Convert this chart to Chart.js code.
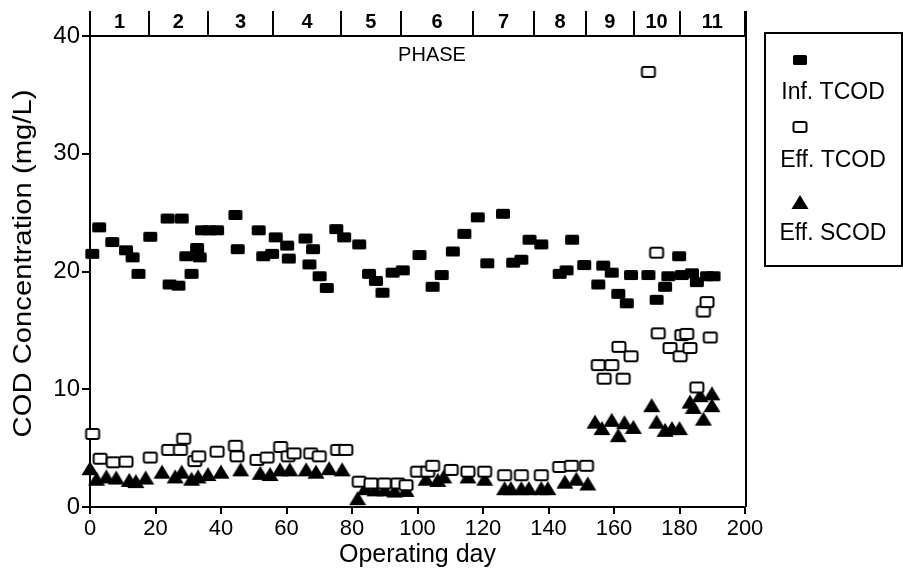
<!DOCTYPE html>
<html>
<head>
<meta charset="utf-8">
<script src="https://cdn.jsdelivr.net/npm/chart.js@4/dist/chart.umd.min.js"></script>
<style>
  html, body { margin: 0; padding: 0; background: #fff; }
  #wrap { width: 903px; height: 576px; }
</style>
</head>
<body>
<div id="wrap"><canvas id="chart" width="903" height="576"></canvas></div>
<script>
// Inf. TCOD (filled squares)
var infDay = [0.7, 2.8, 6.8, 11, 13, 14.8, 18.4, 23.7, 28, 24.3, 27, 31, 29.4, 32.7, 33.5, 34.2, 36.5, 38.8, 44.4, 45.1,
  51.5, 52.9, 56.7, 55.6, 60.2, 60.7, 65.8, 68.1, 67, 70.1, 72.3, 75.2, 77.6, 82.2, 85.2, 87.3, 89.3, 92.4, 95.5, 100.6,
  104.6, 107.4, 110.8, 114.3, 118.4, 121.3, 126.1, 129.2, 131.7, 134.2, 137.8, 143.4, 145.5, 147.2, 150.9, 155.2, 156.7,
  159.3, 161.3, 163.9, 165.2, 170.5, 173, 175.6, 176.6, 179.9, 180.7, 183.8, 185.3, 188.4, 190.4];
var infTcod = [21.5, 23.75, 22.5, 21.8, 21.2, 19.8, 22.95, 24.5, 24.5, 18.9, 18.8, 19.8, 21.3, 22.0, 21.2, 23.5, 23.5, 23.5, 24.8, 21.9,
  23.5, 21.3, 22.9, 21.5, 22.2, 21.1, 22.8, 21.9, 20.6, 19.6, 18.6, 23.6, 22.9, 22.3, 19.8, 19.2, 18.2, 19.9, 20.1, 21.4,
  18.7, 19.7, 21.7, 23.2, 24.6, 20.7, 24.9, 20.75, 21.0, 22.7, 22.3, 19.8, 20.1, 22.7, 20.55, 18.9, 20.5,
  19.9, 18.1, 17.3, 19.7, 19.7, 17.6, 18.7, 19.6, 21.3, 19.7, 19.85, 19.1, 19.6, 19.6];

// Eff. TCOD (open squares)
var effDay = [0.8, 3.1, 7.1, 11, 18.4, 24, 27.6, 28.6, 32, 33.2, 38.8, 44.4, 44.9, 51, 54.1, 58.2, 60.5, 62.3, 67.4, 70,
  75.6, 78.1, 82.2, 85.8, 89.9, 94, 96.5, 100, 103.1, 104.6, 110.3, 115.4, 120.5, 126.6, 131.7, 137.8, 143.4, 147, 151.6,
  155.2, 157, 159.3, 161.5, 162.8, 165.2, 170.5, 173, 173.5, 177.1, 180.2, 180.7, 182.2, 183.2, 185.3, 187.3, 188.4, 189.4];
var effTcod = [6.2, 4.1, 3.8, 3.85, 4.2, 4.85, 4.85, 5.8, 3.9, 4.3, 4.7, 5.2, 4.3, 4.0, 4.2, 5.1, 4.3, 4.55, 4.55, 4.3,
  4.85, 4.85, 2.15, 2.0, 2.0, 2.0, 1.85, 3.0, 3.0, 3.5, 3.15, 3.0, 3.0, 2.7, 2.7, 2.7, 3.4, 3.5, 3.5,
  12.05, 10.9, 12.05, 13.6, 10.9, 12.8, 36.95, 21.6, 14.75, 13.5, 12.8, 14.6, 14.7, 13.5, 10.15, 16.6, 17.4, 14.4];

// Eff. SCOD (filled triangles)
var scodDay = [0, 2, 5, 8, 12, 14, 17, 22, 26, 28, 31, 33, 36, 40, 46, 52, 55, 58, 61, 66, 69, 73, 77,
  81.7, 84, 87, 90, 93, 96.5, 102.6, 106.2, 108, 115.4, 120.5, 126.6, 128.5, 131.7, 134, 137.8, 139.8, 145, 148.5, 152,
  154.2, 156.3, 159.3, 161.3, 163.2, 165.9, 171.5, 173, 175.6, 177.7, 180, 183.2, 184.2, 186.3, 187.3, 189.9, 189.9];
var effScod = [3.3, 2.4, 2.6, 2.5, 2.3, 2.2, 2.5, 3.0, 2.6, 3.0, 2.4, 2.6, 2.8, 3.0, 3.2, 2.9, 2.8, 3.2, 3.2, 3.2, 3.0, 3.3, 3.2,
  0.75, 1.6, 1.5, 1.5, 1.4, 1.45, 2.4, 2.3, 2.6, 2.6, 2.4, 1.6, 1.6, 1.6, 1.6, 1.6, 1.6, 2.15, 2.4, 2.0,
  7.25, 6.7, 7.4, 6.1, 7.2, 6.8, 8.65, 7.25, 6.55, 6.7, 6.7, 8.95, 8.5, 9.5, 7.5, 9.65, 8.65];

// Phase strip along the top
var phaseEdges = [0, 18, 36, 56, 76.5, 95, 117, 135.5, 151.5, 166, 180, 200];
var phaseLabels = ['1', '2', '3', '4', '5', '6', '7', '8', '9', '10', '11'];

var xTicks = [0, 20, 40, 60, 80, 100, 120, 140, 160, 180, 200];
var yTicks = [0, 10, 20, 30, 40];

var FONT = "'Liberation Sans', Arial, Helvetica, sans-serif";

function pairs(xs, ys) {
  return xs.map(function (x, i) { return { x: x, y: ys[i] }; });
}

// Marker images
function makeMarker(kind) {
  var c = document.createElement('canvas');
  c.width = 18; c.height = 16;
  var g = c.getContext('2d');
  g.fillStyle = '#000';
  g.strokeStyle = '#000';
  if (kind === 'filled') {
    g.beginPath();
    g.roundRect(2, 3, 14, 10, 1.5);
    g.fill();
  } else if (kind === 'open') {
    g.fillStyle = '#fff';
    g.lineWidth = 2;
    g.beginPath();
    g.roundRect(2.5, 3, 13, 10, 2);
    g.fill();
    g.stroke();
  } else {
    g.beginPath();
    g.moveTo(9, 1);
    g.lineTo(17.5, 15);
    g.lineTo(0.5, 15);
    g.closePath();
    g.fill();
  }
  return c;
}

var markFilled = makeMarker('filled');
var markOpen = makeMarker('open');
var markTri = makeMarker('tri');

var framePlugin = {
  id: 'frame',
  afterDraw: function (chart) {
    var ctx = chart.ctx;
    var xs = chart.scales.x;
    var area = chart.chartArea;
    var stripTop = 11;
    ctx.save();
    ctx.strokeStyle = '#000';
    ctx.fillStyle = '#000';

    // top and right border
    ctx.lineWidth = 2;
    ctx.beginPath();
    ctx.moveTo(area.left, area.top);
    ctx.lineTo(area.right + 1, area.top);
    ctx.moveTo(area.right + 1, stripTop);
    ctx.lineTo(area.right + 1, area.bottom);
    ctx.stroke();

    // phase dividers and labels
    phaseEdges.forEach(function (d) {
      var px = Math.round(xs.getPixelForValue(d));
      ctx.beginPath();
      ctx.moveTo(px, stripTop);
      ctx.lineTo(px, area.top);
      ctx.stroke();
    });
    ctx.font = 'bold 20px ' + FONT;
    ctx.textAlign = 'center';
    ctx.textBaseline = 'middle';
    phaseLabels.forEach(function (lab, i) {
      var mid = (xs.getPixelForValue(phaseEdges[i]) + xs.getPixelForValue(phaseEdges[i + 1])) / 2;
      ctx.fillText(lab, mid, 22);
    });
    ctx.font = '20px ' + FONT;
    ctx.fillText('PHASE', 432, 55);

    // y axis title, stretched like the scan
    ctx.save();
    ctx.translate(24, (area.top + area.bottom) / 2 - 8);
    ctx.rotate(-Math.PI / 2);
    ctx.scale(1.17, 1);
    ctx.font = '25px ' + FONT;
    ctx.fillText('COD Concentration (mg/L)', 0, 0);
    ctx.restore();

    // legend
    ctx.lineWidth = 2;
    ctx.strokeRect(765, 33, 137, 233);
    var items = [
      { img: markFilled, y: 60, label: chart.data.datasets[0].label, ty: 93 },
      { img: markOpen, y: 127, label: chart.data.datasets[1].label, ty: 161 },
      { img: markTri, y: 202, label: chart.data.datasets[2].label, ty: 234 }
    ];
    ctx.font = '23px ' + FONT;
    items.forEach(function (it) {
      ctx.drawImage(it.img, 800 - it.img.width / 2, it.y - it.img.height / 2);
      ctx.fillText(it.label, 833, it.ty);
    });
    ctx.restore();
  }
};

var ctx = document.getElementById('chart');
new Chart(ctx, {
  type: 'scatter',
  data: {
    datasets: [{
      label: 'Inf. TCOD',
      data: pairs(infDay, infTcod),
      pointStyle: markFilled,
      clip: false
    }, {
      label: 'Eff. TCOD',
      data: pairs(effDay, effTcod),
      pointStyle: markOpen,
      clip: false
    }, {
      label: 'Eff. SCOD',
      data: pairs(scodDay, effScod),
      pointStyle: markTri,
      clip: false
    }]
  },
  options: {
    responsive: false,
    animation: false,
    events: [],
    layout: { padding: { top: 36, right: 158, left: 0, bottom: 0 } },
    plugins: {
      legend: { display: false },
      tooltip: { enabled: false }
    },
    scales: {
      x: {
        type: 'linear',
        min: 0,
        max: 200,
        afterFit: function (s) { s.height = 69; },
        afterBuildTicks: function (s) { s.ticks = xTicks.map(function (v) { return { value: v }; }); },
        ticks: { color: '#000', font: { family: FONT, size: 22 }, padding: 2, maxRotation: 0 },
        grid: { drawOnChartArea: false, drawTicks: true, tickLength: 7, color: '#000', lineWidth: 2 },
        border: { color: '#000', width: 2 },
        title: {
          display: true,
          text: 'Operating day',
          color: '#000',
          font: { family: FONT, size: 25 },
          padding: { top: 0, bottom: 6 }
        }
      },
      y: {
        type: 'linear',
        min: 0,
        max: 40,
        afterFit: function (s) { s.width = 90; },
        afterBuildTicks: function (s) { s.ticks = yTicks.map(function (v) { return { value: v }; }); },
        ticks: { color: '#000', font: { family: FONT, size: 24 }, padding: 2 },
        grid: { drawOnChartArea: false, drawTicks: true, tickLength: 8, color: '#000', lineWidth: 2 },
        border: { color: '#000', width: 2 }
      }
    }
  },
  plugins: [framePlugin]
});
</script>
</body>
</html>
